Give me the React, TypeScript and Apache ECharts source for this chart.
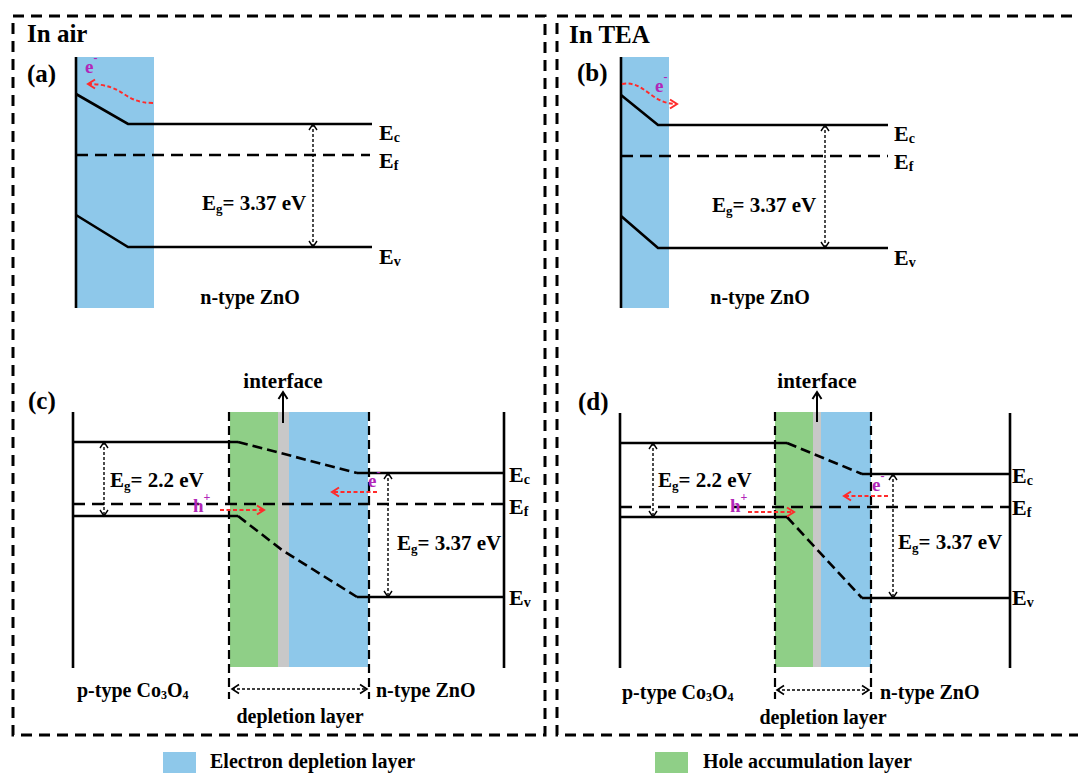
import React, { useEffect, useRef } from "react";
import * as echarts from "echarts";

const W = 1078;
const H = 773;
const FONT = "Liberation Serif";
const INK = "#000000";
const RED = "#ff2b2b";
const MAGENTA = "#b226b8";
const FILLS = ["#8ec8ea", "#8fcf87", "#c8c8c8"]; // electron depletion, hole accumulation, interface

// ---- diagram data (coordinates in the hidden axes' units) ----
const FRAMES = [
  [[13, 16], [545, 16], [545, 735], [13, 735], [13, 16]],
  [[1090, 16], [557, 16], [557, 735], [1090, 735]],
];

// [x0, y0, x1, y1, fillIndex]
const LAYER_RECTS = [
  [76, 57, 154, 308, 0],
  [621, 57, 669, 308, 0],
  [230, 412, 278, 667, 1],
  [278, 412, 289, 667, 2],
  [289, 412, 368, 667, 0],
  [775, 412, 813, 667, 1],
  [813, 412, 821, 667, 2],
  [821, 412, 871, 667, 0],
];
const LEGEND_SWATCHES = [
  [163, 752, 196, 776, 0],
  [655, 752, 688, 776, 1],
];

const SOLID_BANDS = [
  [[76, 57], [76, 308]],
  [[76, 94], [128, 124], [372, 124]],
  [[76, 215], [128, 247], [372, 247]],
  [[621, 57], [621, 308]],
  [[621, 95], [658, 125], [888, 125]],
  [[621, 216], [658, 248], [888, 248]],
  [[73, 412], [73, 668]],
  [[504, 412], [504, 668]],
  [[73, 442], [238, 442]],
  [[357, 473], [504, 473]],
  [[73, 516], [238, 516]],
  [[357, 597], [504, 597]],
  [[620, 413], [620, 668]],
  [[1010, 413], [1010, 668]],
  [[620, 443], [787, 443]],
  [[862, 474], [1010, 474]],
  [[620, 517], [787, 517]],
  [[862, 598], [1010, 598]],
];
const FERMI_LEVELS = [
  [[76, 155], [370, 155]],
  [[621, 156], [888, 156]],
  [[73, 504], [504, 504]],
  [[620, 507], [1010, 507]],
];
const BENT_BANDS = [
  [[238, 442], [357, 473]],
  [[238, 516], [282, 550], [357, 597]],
  [[787, 443], [862, 474]],
  [[787, 517], [862, 598]],
];
const JUNCTION_EDGES = [
  [[229, 412], [229, 699]],
  [[369, 412], [369, 699]],
  [[775, 412], [775, 699]],
  [[871, 412], [871, 699]],
];

// [x1, y1, x2, y2]
const GAP_ARROWS = [
  [313, 124, 313, 247],
  [825, 125, 825, 248],
  [104, 442, 104, 516],
  [388, 473, 388, 597],
  [653, 443, 653, 517],
  [893, 474, 893, 598],
];
const WIDTH_ARROWS = [
  [232, 689, 367, 689],
  [777, 690, 869, 690],
];
const CARRIER_ARROWS = [
  [220, 510, 264, 510],
  [377, 492, 332, 492],
  [748, 512, 794, 512],
  [888, 496, 844, 496],
];
const INTERFACE_ARROWS = [
  [283, 423, 283, 392],
  [817, 422, 817, 392],
];
// [x1, y1, cx1, cy1, cx2, cy2, x2, y2]
const CURVED_ARROWS = [
  [153, 103, 122, 103, 126, 84, 88, 84],
  [622, 84, 645, 80, 650, 104, 677, 104],
];

const TITLES = [["In air", 27, 33], ["In TEA", 569, 34]];
const TAGS = [["(a)", 27, 73], ["(b)", 577, 72], ["(c)", 28, 400], ["(d)", 578, 401]];
const LEVEL_LABELS = [
  ["c", 379, 132], ["f", 379, 160], ["v", 379, 256],
  ["c", 894, 133], ["f", 894, 161], ["v", 894, 257],
  ["c", 509, 474], ["f", 509, 506], ["v", 509, 597],
  ["c", 1012, 475], ["f", 1012, 507], ["v", 1012, 597],
];
const GAP_LABELS = [
  ["3.37", 202, 203], ["3.37", 712, 205],
  ["2.2", 110, 480], ["3.37", 397, 543],
  ["2.2", 658, 480], ["3.37", 898, 542],
];
const MATERIAL_LABELS = [
  ["n", 250, 297, "center"], ["n", 760, 297, "center"],
  ["p", 77, 690, "left"], ["n", 376, 690, "left"],
  ["p", 622, 692, "left"], ["n", 880, 692, "left"],
];
const DEPLETION_LABELS = [[300, 716], [823, 717]];
const INTERFACE_LABELS = [[283, 381], [817, 381]];
const CARRIERS = [
  ["e", "-", 85, 66], ["e", "-", 655, 85],
  ["h", "+", 193, 505], ["e", "-", 368, 480],
  ["h", "+", 730, 505], ["e", "-", 872, 484],
];
const LEGEND_LABELS = [["Electron depletion layer", 210, 761], ["Hole accumulation layer", 703, 761]];

type TextItem = { text: string; x: number; y: number; size: number; color: string; align: string };

const TEXTS: TextItem[] = [
  ...TITLES.map(([t, x, y]) => ({ text: `{m|${t}}`, x: x as number, y: y as number, size: 25, color: INK, align: "left" })),
  ...TAGS.map(([t, x, y]) => ({ text: `{m|${t}}`, x: x as number, y: y as number, size: 25, color: INK, align: "left" })),
  ...LEVEL_LABELS.map(([s, x, y]) => ({ text: `{m|E}{s|${s}}`, x: x as number, y: y as number, size: 22, color: INK, align: "left" })),
  ...GAP_LABELS.map(([v, x, y]) => ({ text: `{m|E}{s|g}{m|= ${v} eV}`, x: x as number, y: y as number, size: 21, color: INK, align: "left" })),
  ...MATERIAL_LABELS.map(([k, x, y, a]) => ({
    text: k === "n" ? "{m|n-type ZnO}" : "{m|p-type Co}{s|3}{m|O}{s|4}",
    x: x as number, y: y as number, size: 20, color: INK, align: a as string,
  })),
  ...DEPLETION_LABELS.map(([x, y]) => ({ text: "{m|depletion layer}", x, y, size: 20, color: INK, align: "center" })),
  ...INTERFACE_LABELS.map(([x, y]) => ({ text: "{m|interface}", x, y, size: 21, color: INK, align: "center" })),
  ...CARRIERS.map(([c, sgn, x, y]) => ({ text: `{m|${c}}{u|${sgn}}`, x: x as number, y: y as number, size: 19, color: MAGENTA, align: "left" })),
  ...LEGEND_LABELS.map(([t, x, y]) => ({ text: `{m|${t}}`, x: x as number, y: y as number, size: 20, color: INK, align: "left" })),
];

let measureCtx: CanvasRenderingContext2D | null = null;
function measure(text: string, size: number) {
  if (!measureCtx) measureCtx = document.createElement("canvas").getContext("2d");
  if (!measureCtx) return text.length * size * 0.5;
  measureCtx.font = `bold ${size}px "${FONT}"`;
  return measureCtx.measureText(text).width;
}

function segmentsOf(text: string) {
  const out: { kind: string; t: string }[] = [];
  const re = /\{(\w)\|([^}]*)\}/g;
  let m: RegExpExecArray | null;
  while ((m = re.exec(text))) out.push({ kind: m[1], t: m[2] });
  return out;
}

function chevron(tx: number, ty: number, fx: number, fy: number, len: number, spread: number) {
  const dx = tx - fx;
  const dy = ty - fy;
  const d = Math.hypot(dx, dy) || 1;
  const ux = dx / d;
  const uy = dy / d;
  const px = -uy;
  const py = ux;
  return [
    [tx - ux * len + px * spread, ty - uy * len + py * spread],
    [tx, ty],
    [tx - ux * len - px * spread, ty - uy * len - py * spread],
  ];
}

function lineSeries(pts: number[][], width: number, dash: number[] | "solid") {
  return {
    type: "line",
    data: pts,
    symbol: "none",
    showSymbol: false,
    silent: true,
    clip: false,
    z: 3,
    lineStyle: { color: INK, width, type: dash, cap: "butt", join: "miter" },
  };
}

function rectSeries(rows: number[][]) {
  return {
    type: "custom",
    silent: true,
    clip: false,
    z: 1,
    data: rows,
    renderItem: (params: any, api: any) => {
      const p0 = api.coord([api.value(0), api.value(1)]);
      const p1 = api.coord([api.value(2), api.value(3)]);
      return {
        type: "rect",
        shape: { x: p0[0], y: p0[1], width: p1[0] - p0[0], height: p1[1] - p0[1] },
        style: { fill: FILLS[api.value(4)] },
      };
    },
  };
}

function arrowSeries(rows: number[][], opts: { color: string; width: number; dash: number[] | null; head: number; spread: number; double: boolean; headWidth: number }) {
  return {
    type: "custom",
    silent: true,
    clip: false,
    z: 5,
    data: rows,
    renderItem: (params: any, api: any) => {
      const a = api.coord([api.value(0), api.value(1)]);
      const b = api.coord([api.value(2), api.value(3)]);
      const children: any[] = [
        {
          type: "line",
          shape: { x1: a[0], y1: a[1], x2: b[0], y2: b[1] },
          style: { stroke: opts.color, lineWidth: opts.width, lineDash: opts.dash || undefined },
        },
        {
          type: "polyline",
          shape: { points: chevron(b[0], b[1], a[0], a[1], opts.head, opts.spread) },
          style: { stroke: opts.color, lineWidth: opts.headWidth, fill: "none" },
        },
      ];
      if (opts.double) {
        children.push({
          type: "polyline",
          shape: { points: chevron(a[0], a[1], b[0], b[1], opts.head, opts.spread) },
          style: { stroke: opts.color, lineWidth: opts.headWidth, fill: "none" },
        });
      }
      return { type: "group", children };
    },
  };
}

function curvedSeries(rows: number[][]) {
  return {
    type: "custom",
    silent: true,
    clip: false,
    z: 5,
    data: rows,
    renderItem: (params: any, api: any) => {
      const p = [0, 2, 4, 6].map((i) => api.coord([api.value(i), api.value(i + 1)]));
      return {
        type: "group",
        children: [
          {
            type: "bezierCurve",
            shape: { x1: p[0][0], y1: p[0][1], cpx1: p[1][0], cpy1: p[1][1], cpx2: p[2][0], cpy2: p[2][1], x2: p[3][0], y2: p[3][1] },
            style: { stroke: RED, lineWidth: 2, lineDash: [4, 2.5], fill: "none" },
          },
          {
            type: "polyline",
            shape: { points: chevron(p[3][0], p[3][1], p[2][0], p[2][1], 7, 4.5) },
            style: { stroke: RED, lineWidth: 2, fill: "none" },
          },
        ],
      };
    },
  };
}

function textGraphics(chart: any) {
  const out: any[] = [];
  TEXTS.forEach((t) => {
    const p = chart.convertToPixel({ gridIndex: 0 }, [t.x, t.y]);
    const segs = segmentsOf(t.text).map((s) => {
      const size = s.kind === "m" ? t.size : Math.round(t.size * 0.62);
      const dy = s.kind === "s" ? t.size * 0.24 : s.kind === "u" ? -t.size * 0.42 : 0;
      return { ...s, size, dy, w: measure(s.t, size) };
    });
    const total = segs.reduce((acc, s) => acc + s.w, 0);
    let cx = t.align === "center" ? p[0] - total / 2 : t.align === "right" ? p[0] - total : p[0];
    segs.forEach((s) => {
      out.push({
        type: "text",
        silent: true,
        z: 100,
        x: cx,
        y: p[1] + s.dy,
        style: {
          text: s.t,
          fill: t.color,
          fontFamily: FONT,
          fontWeight: "bold",
          fontSize: s.size,
          textAlign: "left",
          textVerticalAlign: "middle",
        },
      });
      cx += s.w;
    });
  });
  return out;
}

export default function App() {
  const ref = useRef<HTMLDivElement>(null);
  useEffect(() => {
    if (!ref.current) return;
    const chart = echarts.init(ref.current, null, { renderer: "svg" });
    const series: any[] = [
      rectSeries(LAYER_RECTS),
      rectSeries(LEGEND_SWATCHES),
      ...FRAMES.map((f) => lineSeries(f, 3, [11, 7])),
      ...SOLID_BANDS.map((l) => lineSeries(l, 2.6, "solid")),
      ...FERMI_LEVELS.map((l) => lineSeries(l, 2.6, [12, 7])),
      ...BENT_BANDS.map((l) => lineSeries(l, 2.6, [10, 5])),
      ...JUNCTION_EDGES.map((l) => lineSeries(l, 2.2, [9, 5])),
      arrowSeries(GAP_ARROWS, { color: INK, width: 1.4, dash: [3, 2], head: 6, spread: 4, double: true, headWidth: 1.4 }),
      arrowSeries(WIDTH_ARROWS, { color: INK, width: 1.4, dash: [3, 2], head: 7, spread: 4.5, double: true, headWidth: 1.6 }),
      arrowSeries(CARRIER_ARROWS, { color: RED, width: 2, dash: [4, 2.5], head: 7, spread: 4.5, double: false, headWidth: 2 }),
      arrowSeries(INTERFACE_ARROWS, { color: INK, width: 2, dash: null, head: 7, spread: 4.5, double: false, headWidth: 2 }),
      curvedSeries(CURVED_ARROWS),
    ];
    chart.setOption({
      animation: false,
      backgroundColor: "#ffffff",
      grid: { left: 0, right: 0, top: 0, bottom: 0, containLabel: false },
      xAxis: { type: "value", min: 0, max: W, show: false },
      yAxis: { type: "value", min: 0, max: H, inverse: true, show: false },
      series,
    });
    chart.setOption({ graphic: textGraphics(chart) });
    return () => chart.dispose();
  }, []);
  return (
    <div style={{ position: "absolute", left: 0, top: 0, width: W, height: H, background: "#fff" }}>
      <div ref={ref} style={{ width: W, height: H }} />
    </div>
  );
}
